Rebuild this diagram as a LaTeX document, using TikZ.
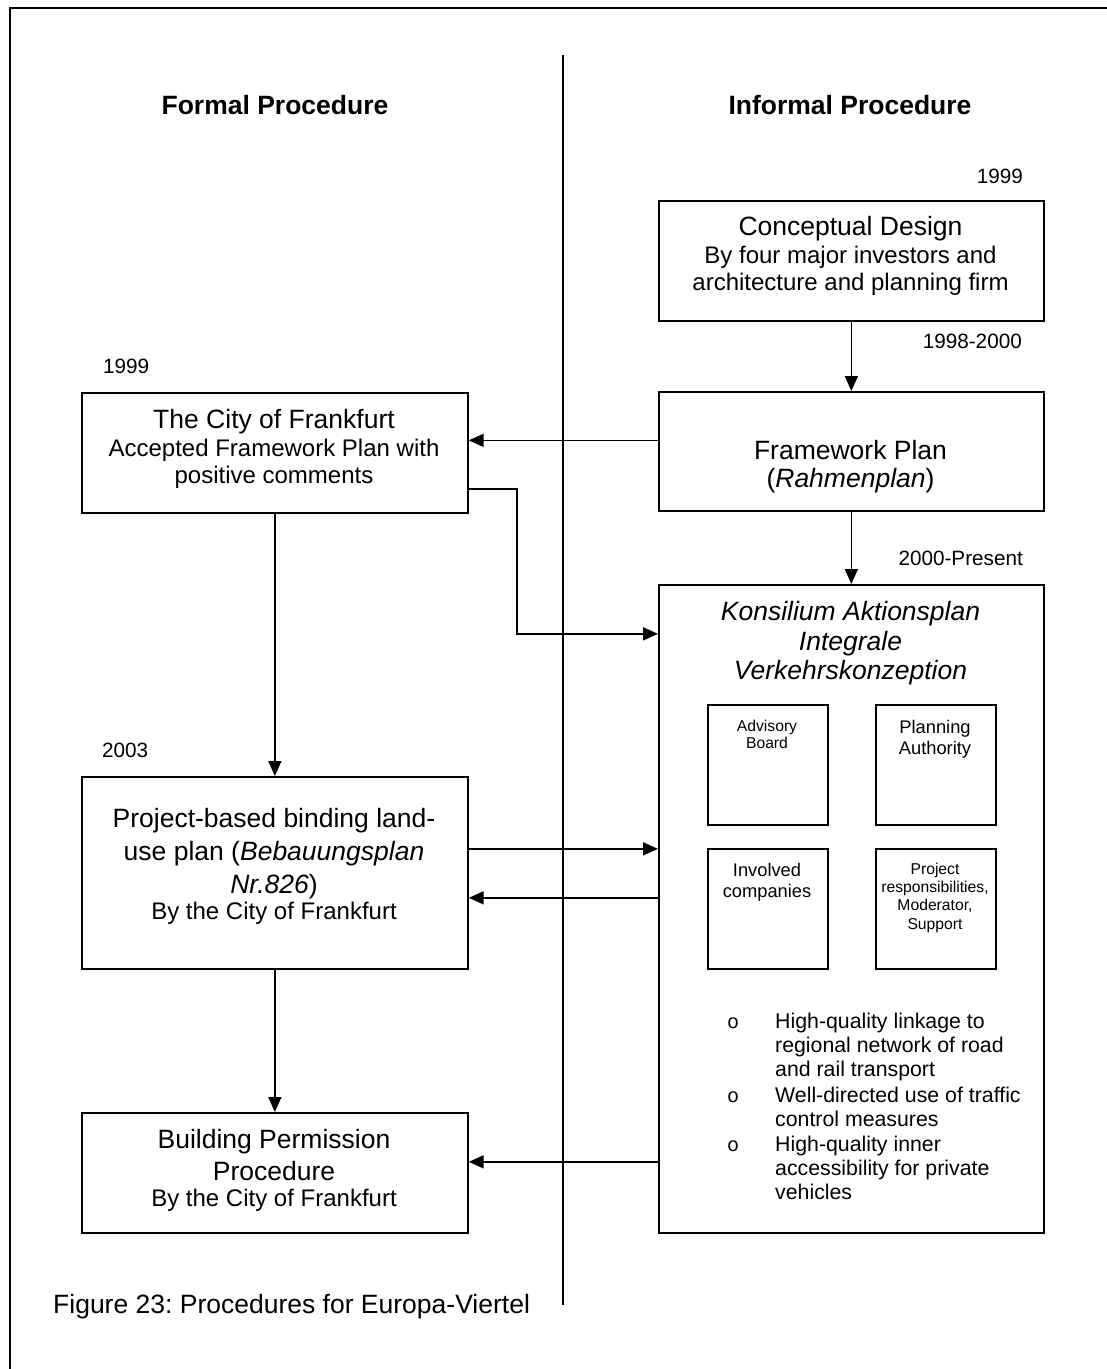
\documentclass[tikz,border=0pt]{standalone}
\usepackage{fontspec}
\setmainfont{Liberation Sans}
\newfontfamily\bulletfont{Liberation Mono}
\usetikzlibrary{arrows.meta}
\frenchspacing

% type sizes (1pt of font = 1 unit of the drawing)
\newcommand\fTitle{\fontsize{26.5}{30}\selectfont}
\newcommand\fSub{\fontsize{24}{27}\selectfont}
\newcommand\fYear{\fontsize{20.7}{24}\selectfont}
\newcommand\fList{\fontsize{21.3}{24.4}\selectfont}
\newcommand\fSmall{\fontsize{15.7}{18.4}\selectfont}
\newcommand\fMid{\fontsize{18.3}{21.5}\selectfont}

\tikzset{
  boxed/.style={draw, line width=1.7pt, rectangle, inner sep=0pt, anchor=north west},
  txt/.style={anchor=base, inner sep=0pt},
  year/.style={anchor=base, inner sep=0pt, font=\fYear},
  arr/.style={line width=1.7pt, -{Triangle[length=15pt,width=13pt]}},
}

\begin{document}
\begin{tikzpicture}[x=1pt,y=-1pt]
\useasboundingbox (0,0) rectangle (1107,1369);

% outer frame (top and left edge)
\coordinate (frameBL) at (10,1369);
\coordinate (frameTL) at (10,8);
\coordinate (frameTR) at (1107,8);
\draw[line width=2.6pt] (frameBL) -- (frameTL) -- (frameTR);

% divider between the two procedures
\coordinate (divTop) at (563,55);
\coordinate (divBot) at (563,1305);
\draw[line width=1.6pt] (divTop) -- (divBot);

% column headings
\node[txt, font=\fTitle\bfseries] (hFormal) at (275,114) {Formal Procedure};
\node[txt, font=\fTitle\bfseries] (hInformal) at (850,114) {Informal Procedure};

% ---------- boxes ----------
\node[boxed, minimum width=385pt, minimum height=120pt] (concept) at (658,200) {};
\node[boxed, minimum width=385pt, minimum height=119pt] (frame) at (658,391) {};
\node[boxed, minimum width=385pt, minimum height=648pt] (konsil) at (658,584) {};
\node[boxed, minimum width=386pt, minimum height=120pt] (city) at (81,392) {};
\node[boxed, minimum width=386pt, minimum height=192pt] (proj) at (81,776) {};
\node[boxed, minimum width=386pt, minimum height=120pt] (build) at (81,1112) {};

\node[boxed, minimum width=120pt, minimum height=120pt] (advisory) at (707,704) {};
\node[boxed, minimum width=120pt, minimum height=120pt] (planning) at (875,704) {};
\node[boxed, minimum width=120pt, minimum height=120pt] (involved) at (707,848) {};
\node[boxed, minimum width=120pt, minimum height=120pt] (projresp) at (875,848) {};

% ---------- box texts ----------
\node[txt] (conceptT) at (850.5,235) {\parbox[t]{370pt}{\centering
  \fTitle Conceptual Design\\[1pt]\fSub By four major investors and\\ architecture and planning firm}};
\node[txt] (frameT) at (850.5,459) {\parbox[t]{370pt}{\centering
  \fTitle Framework Plan\\[-2pt] (\textit{Rahmenplan})}};
\node[txt] (cityT) at (274,428) {\parbox[t]{370pt}{\centering
  \fTitle The City of Frankfurt\\[1pt]\fSub Accepted Framework Plan with\\ positive comments}};
\node[txt] (projT) at (274,827) {\parbox[t]{370pt}{\centering
  \fTitle Project-based binding land-\\[3pt] use plan (\textit{Bebauungsplan}\\[3pt] \textit{Nr.826})\\[-1pt]\fSub By the City of Frankfurt}};
\node[txt] (buildT) at (274,1148) {\parbox[t]{370pt}{\centering
  \fTitle Building Permission\\[2pt] Procedure\\[-1pt]\fSub By the City of Frankfurt}};
\node[txt] (konsilT) at (850.5,620) {\parbox[t]{370pt}{\centering
  \fTitle\itshape Konsilium Aktionsplan\\ Integrale\\[-1pt] Verkehrskonzeption}};

\node[txt] (advisoryT) at (767,731) {\parbox[t]{116pt}{\centering
  \fontsize{15.7}{17.4}\selectfont Advisory\\ Board}};
\node[txt] (planningT) at (935,733) {\parbox[t]{116pt}{\centering
  \fMid Planning\\ Authority}};
\node[txt] (involvedT) at (767,876) {\parbox[t]{116pt}{\centering
  \fMid Involved\\ companies}};
\node[txt] (projrespT) at (935,874) {\parbox[t]{116pt}{\centering
  \fSmall Project\\ responsibilities,\\ Moderator,\\ Support}};

% list of measures
\node[txt, font=\bulletfont\fontsize{20}{24}\selectfont] (b1) at (733,1028) {o};
\node[txt, font=\bulletfont\fontsize{20}{24}\selectfont] (b2) at (733,1102) {o};
\node[txt, font=\bulletfont\fontsize{20}{24}\selectfont] (b3) at (733,1151) {o};
\node[txt, anchor=base west] (l1) at (775,1028) {\parbox[t]{265pt}{\raggedright
  \fList High-quality linkage to\\ regional network of road\\ and rail transport}};
\node[txt, anchor=base west] (l2) at (775,1102) {\parbox[t]{265pt}{\raggedright
  \fList Well-directed use of traffic\\ control measures}};
\node[txt, anchor=base west] (l3) at (775,1151) {\parbox[t]{265pt}{\raggedright
  \fList High-quality inner\\ accessibility for private\\ vehicles}};

% ---------- dates ----------
\node[year, anchor=base east] (y1999r) at (1023,183) {1999};
\node[year, anchor=base east] (y9800) at (1022,348) {1998-2000};
\node[year, anchor=base east] (y2000) at (1023,565) {2000-Present};
\node[year, anchor=base west] (y1999l) at (103,373) {1999};
\node[year, anchor=base west] (y2003) at (102,757) {2003};

% ---------- connectors ----------
\draw[arr] (concept.south) -- (frame.north);
\draw[arr] (frame.south) -- (konsil.north);

\coordinate (fw) at ([yshift=11pt]frame.west);
\draw[arr] (fw) -- (fw -| city.east);

\coordinate (ce) at ([yshift=-36pt]city.east);
\coordinate (kw) at ([yshift=275pt]konsil.west);
\draw[arr] (ce) -- ++(48,0) |- (kw);

\draw[arr] (city.south) -- (proj.north);

\coordinate (pe1) at ([yshift=24pt]proj.east);
\draw[arr] (pe1) -- (pe1 -| konsil.west);
\coordinate (pe2) at ([yshift=-25pt]proj.east);
\draw[arr] (pe2 -| konsil.west) -- (pe2);

\draw[arr] (proj.south) -- (build.north);

\coordinate (be) at ([yshift=11pt]build.east);
\draw[arr] (be -| konsil.west) -- (be);

% caption
\node[txt, anchor=base west, font=\fTitle] (caption) at (53,1313) {Figure 23: Procedures for Europa-Viertel};
\end{tikzpicture}
\end{document}
